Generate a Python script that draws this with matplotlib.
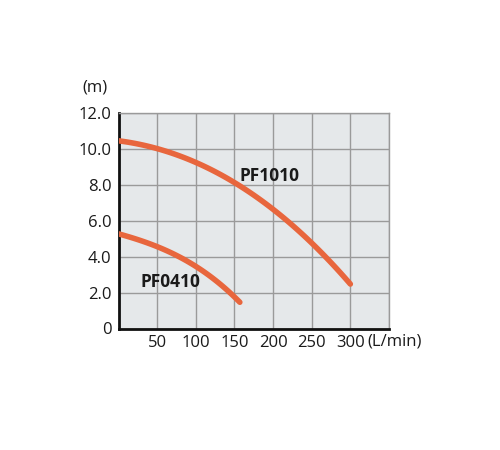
import numpy as np
import matplotlib.pyplot as plt

# flow (L/min) vs head (m)
pf1010_flow = [0, 50, 100, 150, 200, 250, 300]
pf1010_head = [10.46, 10.05, 9.3, 8.1, 6.6, 4.85, 2.45]
pf0410_flow = [0, 50, 100, 150, 157]
pf0410_head = [5.28, 4.57, 3.46, 1.78, 1.45]

x_ticks = [50, 100, 150, 200, 250, 300]
y_ticks = [0, 2, 4, 6, 8, 10, 12]
y_labels = ['0', '2.0', '4.0', '6.0', '8.0', '10.0', '12.0']

plt.rcParams['font.family'] = ['Open Sans', 'DejaVu Sans']

fig = plt.figure(figsize=(5, 4.5), dpi=100)
ax = fig.add_axes([0.237, 0.27, 0.541, 0.478])
ax.set_facecolor('#e5e8ea')

orange = '#e8663d'
for fl, hd in [(pf1010_flow, pf1010_head), (pf0410_flow, pf0410_head)]:
    xs = np.linspace(fl[0], fl[-1], 100)
    # smooth cubic through the read points
    c = np.polyfit(fl, hd, 3)
    ax.plot(xs, np.polyval(c, xs), color=orange, lw=4, solid_capstyle='round', zorder=3)

ax.set_xlim(0, 350)
ax.set_ylim(0, 12)
ax.set_xticks(list(range(0, 351, 50)))
ax.set_xticklabels([''] + [str(v) for v in x_ticks] + [''])
ax.set_yticks(y_ticks)
ax.set_yticklabels(y_labels)
ax.grid(True, color='#9a9a9a', lw=1)
ax.set_axisbelow(True)
ax.tick_params(length=0, labelsize=12, colors='#1a1a1a', pad=5)

for s in ['top', 'right']:
    ax.spines[s].set_color('#9a9a9a')
    ax.spines[s].set_linewidth(1)
for s in ['left', 'bottom']:
    ax.spines[s].set_color('#111111')
    ax.spines[s].set_linewidth(2)

ax.text(156, 8.48, 'PF1010', fontsize=12.5, fontweight='bold', color='#1a1a1a', va='center')
ax.text(29, 2.6, 'PF0410', fontsize=12.5, fontweight='bold', color='#1a1a1a', va='center')

fig.text(0.19, 0.805, '(m)', fontsize=12, color='#1a1a1a', ha='center', va='center')
fig.text(0.79, 0.24, '(L/min)', fontsize=12, color='#1a1a1a', ha='center', va='center')

fig.savefig('out.png', dpi=100, facecolor='white')
